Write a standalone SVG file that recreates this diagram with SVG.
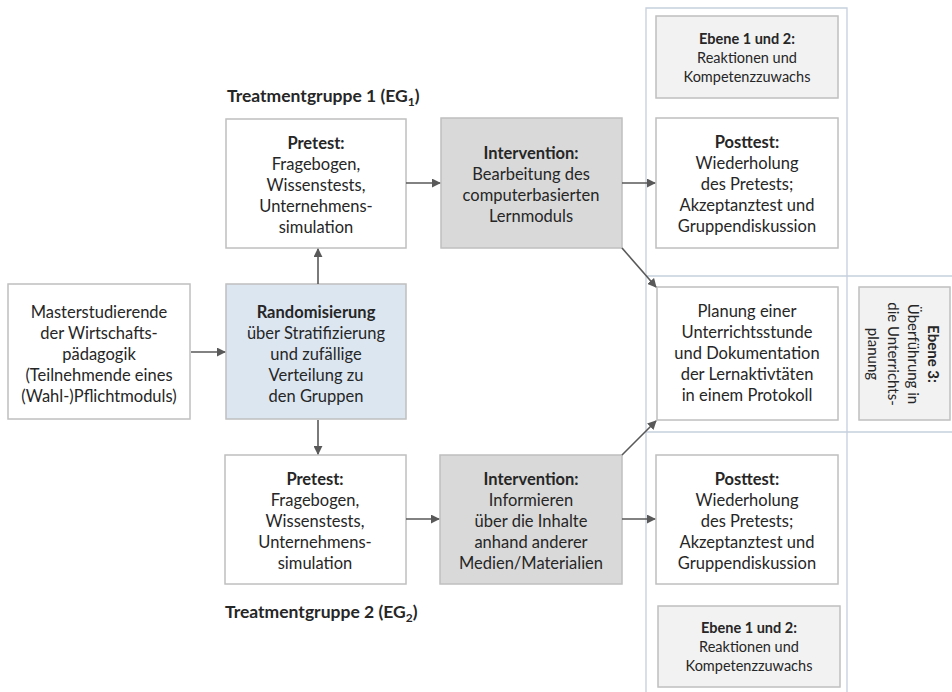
<svg xmlns="http://www.w3.org/2000/svg" width="952" height="692" viewBox="0 0 952 692">
<defs>
<marker id="arr" viewBox="0 0 10 10" refX="9" refY="5" markerWidth="9" markerHeight="9" markerUnits="userSpaceOnUse" orient="auto">
<path d="M0,0 L10,5 L0,10 z" fill="#595959"/>
</marker>
<style>
text{font-family:Lato,"Liberation Sans",sans-serif;fill:#262626;text-anchor:middle;font-size:16.5px}
.b{font-weight:bold}
.s{font-size:14.5px}
.r{font-size:15px}
.lbl{text-anchor:start;font-weight:bold;font-size:17.5px}
.box{stroke:#bfbfbf;stroke-width:1.5}
.w{fill:#ffffff}
.g{fill:#d9d9d9}
.l{fill:#f2f2f2}
.bl{fill:#dce6f1}
.frame{fill:none;stroke:#c5cfdc;stroke-width:1.3}
.c{stroke:#595959;stroke-width:1.6;fill:none;marker-end:url(#arr)}
</style>
</defs>
<rect width="952" height="692" fill="#ffffff"/>
<g id="frame">
<path class="frame" d="M646,692 V8 H847 V692"/>
<path class="frame" d="M646,276 H952 M646,432 H952"/>
</g>
<g id="label-eg1"><text class="lbl" x="227" y="102">Treatmentgruppe 1 (EG<tspan font-size="12" dy="4">1</tspan><tspan dy="-4">)</tspan></text></g>
<g id="label-eg2"><text class="lbl" x="225" y="618">Treatmentgruppe 2 (EG<tspan font-size="12" dy="4">2</tspan><tspan dy="-4">)</tspan></text></g>
<g id="master">
<rect class="box w" x="8" y="284" width="182" height="135"/>
<text x="99" y="318">Masterstudierende</text>
<text x="99" y="339">der Wirtschafts-</text>
<text x="99" y="360">pädagogik</text>
<text x="99" y="381">(Teilnehmende eines</text>
<text x="99" y="402">(Wahl-)Pflichtmoduls)</text>
</g>
<g id="random">
<rect class="box bl" x="226" y="284" width="180" height="135"/>
<text class="b" x="316" y="318">Randomisierung</text>
<text x="316" y="339">über Stratifizierung</text>
<text x="316" y="360">und zufällige</text>
<text x="316" y="381">Verteilung zu</text>
<text x="316" y="402">den Gruppen</text>
</g>
<g id="pretest1">
<rect class="box w" x="226" y="119" width="180" height="129"/>
<text class="b" x="316" y="149">Pretest:</text>
<text x="316" y="170">Fragebogen,</text>
<text x="316" y="191">Wissenstests,</text>
<text x="316" y="212">Unternehmens-</text>
<text x="316" y="233">simulation</text>
</g>
<g id="pretest2">
<rect class="box w" x="225" y="455" width="181" height="129"/>
<text class="b" x="315" y="485">Pretest:</text>
<text x="315" y="506">Fragebogen,</text>
<text x="315" y="527">Wissenstests,</text>
<text x="315" y="548">Unternehmens-</text>
<text x="315" y="569">simulation</text>
</g>
<g id="intervention1">
<rect class="box g" x="441" y="118" width="181" height="130"/>
<text class="b" x="531" y="159">Intervention:</text>
<text x="531" y="180">Bearbeitung des</text>
<text x="531" y="201">computerbasierten</text>
<text x="531" y="222">Lernmoduls</text>
</g>
<g id="intervention2">
<rect class="box g" x="440" y="455" width="182" height="129"/>
<text class="b" x="531" y="485">Intervention:</text>
<text x="531" y="506">Informieren</text>
<text x="531" y="527">über die Inhalte</text>
<text x="531" y="548">anhand anderer</text>
<text x="531" y="569">Medien/Materialien</text>
</g>
<g id="ebene12-top">
<rect class="box l" x="656" y="16" width="182" height="82"/>
<text class="b s" x="747" y="44">Ebene 1 und 2:</text>
<text class="s" x="747" y="63">Reaktionen und</text>
<text class="s" x="747" y="82">Kompetenzzuwachs</text>
</g>
<g id="posttest1">
<rect class="box w" x="656" y="118" width="182" height="130"/>
<text class="b" x="747" y="148">Posttest:</text>
<text x="747" y="169">Wiederholung</text>
<text x="747" y="190">des Pretests;</text>
<text x="747" y="211">Akzeptanztest und</text>
<text x="747" y="232">Gruppendiskussion</text>
</g>
<g id="planung">
<rect class="box w" x="657" y="287" width="181" height="133"/>
<text x="747" y="317">Planung einer</text>
<text x="747" y="338">Unterrichtsstunde</text>
<text x="747" y="359">und Dokumentation</text>
<text x="747" y="380">der Lernaktivtäten</text>
<text x="747" y="401">in einem Protokoll</text>
</g>
<g id="ebene3">
<rect class="box l" x="859" y="287" width="91" height="133"/>
<g transform="translate(904,354) rotate(90)">
<text class="b r" x="0" y="-24">Ebene 3:</text>
<text class="r" x="0" y="-4">Überführung in</text>
<text class="r" x="0" y="16">die Unterrichts-</text>
<text class="r" x="0" y="36">planung</text>
</g>
</g>
<g id="posttest2">
<rect class="box w" x="656" y="455" width="182" height="129"/>
<text class="b" x="747" y="485">Posttest:</text>
<text x="747" y="506">Wiederholung</text>
<text x="747" y="527">des Pretests;</text>
<text x="747" y="548">Akzeptanztest und</text>
<text x="747" y="569">Gruppendiskussion</text>
</g>
<g id="ebene12-bottom">
<rect class="box l" x="658" y="606" width="182" height="81"/>
<text class="b s" x="749" y="633">Ebene 1 und 2:</text>
<text class="s" x="749" y="652">Reaktionen und</text>
<text class="s" x="749" y="671">Kompetenzzuwachs</text>
</g>
<g id="connectors">
<line class="c" x1="191" y1="352" x2="225" y2="352"/>
<line class="c" x1="318" y1="284" x2="318" y2="249"/>
<line class="c" x1="318" y1="420" x2="318" y2="454"/>
<line class="c" x1="406" y1="183" x2="440" y2="183"/>
<line class="c" x1="406" y1="519" x2="439" y2="519"/>
<line class="c" x1="622" y1="183" x2="655" y2="183"/>
<line class="c" x1="622" y1="519" x2="655" y2="519"/>
<line class="c" x1="622" y1="248" x2="656" y2="287"/>
<line class="c" x1="622" y1="455" x2="656" y2="421"/>
</g>
</svg>
